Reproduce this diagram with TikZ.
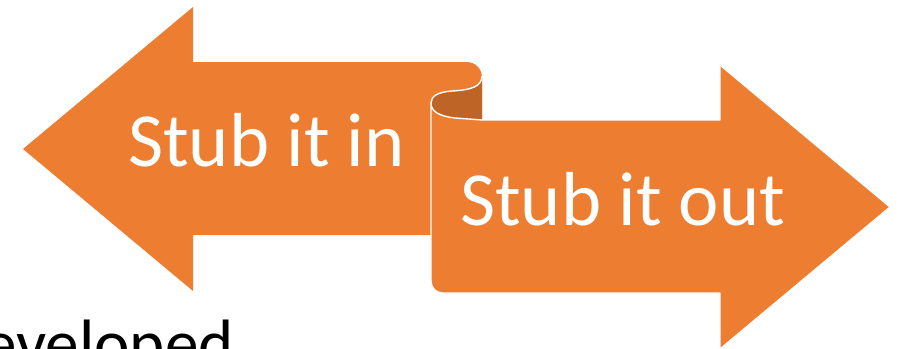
\documentclass[tikz,border=0pt]{standalone}
\usepackage{fontspec}
\usepackage{xcolor}
\usepackage{tikz}
\newfontfamily\ribbonfont{Carlito}
\definecolor{ribbonorange}{HTML}{ED7D31}
\definecolor{ribbonshade}{HTML}{BE6427}
\tikzset{
  ribbonbody/.style={fill=ribbonorange},
  ribbonedge/.style={fill=ribbonorange, draw=white, line width=1.4pt,
    line join=round},
  ribboncurl/.style={fill=ribbonshade, draw=white, line width=1.4pt},
  ribbontext/.style={text=white, inner sep=0pt, anchor=base west,
    font=\ribbonfont\fontsize{76.5}{80}\selectfont},
  slidetext/.style={text=black, inner sep=0pt, anchor=base west,
    font=\ribbonfont\fontsize{67}{72}\selectfont}
}
\begin{document}
\begin{tikzpicture}[x=1pt, y=-1pt]
  \useasboundingbox (0,0) rectangle (907,348);
  \clip (0,0) rectangle (907,348);

  \fill[ribbonbody] (23,149) -- (193,7) -- (193,62) -- (466,62)
    .. controls (476,62) and (482,69) .. (482,78) -- (482,120)
    -- (431,120) -- (431,235) -- (193,235) -- (193,291) -- cycle;

  \fill[ribbonshade] (482,78) .. controls (482,87) and (470,90) .. (452,91)
    .. controls (438,92) and (431,96) .. (431,103) -- (431,120)
    -- (482,120) -- cycle;
  \draw[white, line width=1.4pt] (482,76)
    .. controls (482,87) and (470,90) .. (452,91)
    .. controls (438,92) and (431,96) .. (431,103);

  \draw[ribbonedge] (431,103) .. controls (431,111) and (438,116) .. (455,118)
    -- (482,120) -- (720,120) -- (720,65) -- (890,207) -- (720,349)
    -- (720,293) -- (443,293) .. controls (436,293) and (431,288) .. (431,281)
    -- cycle;

  \node[ribbontext] (stubin) at (128,166) {Stub it in};
  \node[ribbontext] (stubout) at (460,225) {Stub it out};
  \node[slidetext] (developed) at (-17,366) {eveloped};
\end{tikzpicture}
\end{document}
